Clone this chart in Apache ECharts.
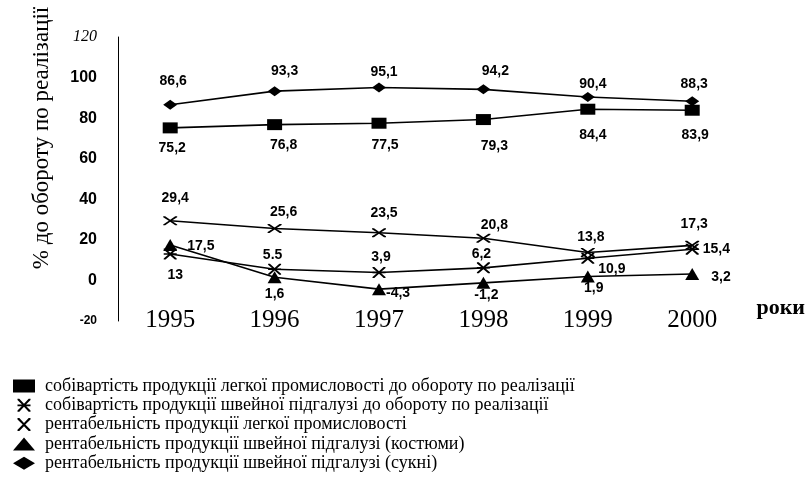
<!DOCTYPE html>
<html>
<head>
<meta charset="UTF-8">
<script src="https://cdn.jsdelivr.net/npm/echarts@6/dist/echarts.min.js"></script>
<style>
  html, body { margin: 0; padding: 0; background: #fff; }
  #main { width: 808px; height: 485px; }
</style>
</head>
<body>
<div id="main"></div>
<script>
const years = ['1995', '1996', '1997', '1998', '1999', '2000'];
const costLight = [75.2, 76.8, 77.5, 79.3, 84.4, 83.9];
const costSewing = [13, 5.5, 3.9, 6.2, 10.9, 15.4];
const profitLight = [29.4, 25.6, 23.5, 20.8, 13.8, 17.3];
const profitSuits = [17.5, 1.6, -4.3, -1.2, 1.9, 3.2];
const profitDresses = [86.6, 93.3, 95.1, 94.2, 90.4, 88.3];
const names = [
  'собівартість продукції легкої промисловості до обороту по реалізації',
  'собівартість продукції швейної підгалузі до обороту по реалізації',
  'рентабельність продукції легкої промисловості',
  'рентабельність продукції швейної підгалузі (костюми)',
  'рентабельність продукції швейної підгалузі (сукні)'
];

// marker shapes
const crossPath = 'path://M0,0 L14,0 L50,38 L86,0 L100,0 L100,10 L60,50 L100,90 L100,100 L86,100 L50,62 L14,100 L0,100 L0,90 L40,50 L0,10 Z';
const starPath = 'path://M0,0 L14,0 L50,38 L86,0 L100,0 L100,10 L60,50 L100,90 L100,100 L86,100 L50,62 L14,100 L0,100 L0,90 L40,50 L0,10 Z M0,43 L100,43 L100,57 L0,57 Z';

// label placement per point: [position, dx, dy]
const place = [
  [['bottom', 2, 0], ['bottom', 9, 0], ['bottom', 6, 1], ['bottom', 11, 6], ['bottom', 5, 5], ['bottom', 3, 4]],
  [['bottom', 5, 1], ['top', -2, 6], ['top', 2, 5], ['top', -2, 7], ['bottom', 24, -10], ['right', -4, 0]],
  [['top', 5, -3], ['top', 9, 3], ['top', 5, 0], ['top', 11, 6], ['top', 3, 4], ['top', 2, -2]],
  [['right', 2, 1], ['bottom', 0, -4], ['right', -8, 4], ['bottom', 3, -9], ['bottom', 6, -9], ['right', 4, 3]],
  [['top', 3, -4], ['top', 10, 0], ['top', 5, 5], ['top', 12, 2], ['top', 5, 7], ['top', 2, 3]]
];

const lineData = [costLight, costSewing, profitLight, profitSuits, profitDresses];
const symbols = ['rect', starPath, crossPath, 'triangle', 'diamond'];
const symbolSizes = [[15, 11], [13, 11], [14, 9], [14, 12], [14, 10]];

const labelFont = { fontFamily: 'Liberation Sans, Arial', fontWeight: 'bold', fontSize: 14, color: '#000' };

const series = lineData.map((vals, s) => ({
  name: names[s],
  type: 'line',
  symbol: symbols[s],
  symbolSize: symbolSizes[s],
  itemStyle: { color: '#000' },
  lineStyle: { color: '#000', width: 1.6 },
  z: s === 4 ? 3 : 2,
  data: vals.map((v, i) => ({
    value: v,
    label: {
      show: true,
      position: place[s][i][0],
      offset: [place[s][i][1], place[s][i][2]],
      distance: 8,
      ...labelFont,
      formatter: (s === 1 && i === 1) ? String(v) : String(v).replace('.', ',')
    }
  }))
}));

const chart = echarts.init(document.getElementById('main'));
chart.setOption({
  backgroundColor: '#fff',
  animation: false,
  grid: { left: 118, right: 62, top: 37, bottom: 164 },
  xAxis: {
    type: 'category',
    data: years,
    axisLine: { show: false, onZero: false },
    axisTick: { show: false },
    axisLabel: { margin: -13, fontFamily: 'Liberation Serif, Times New Roman', fontSize: 25, color: '#000' },
    name: 'роки',
    nameLocation: 'end',
    nameGap: 12,
    nameTextStyle: {
      fontFamily: 'Liberation Serif, Times New Roman', fontWeight: 'bold', fontSize: 22, color: '#000',
      align: 'left', verticalAlign: 'bottom', padding: [0, 0, 2, 0]
    }
  },
  yAxis: {
    type: 'value',
    min: -20,
    max: 120,
    interval: 20,
    splitLine: { show: false },
    axisTick: { show: false },
    axisLine: { show: true, lineStyle: { color: '#000', width: 1 } },
    axisLabel: {
      margin: 21,
      formatter: v => v === 120 ? '{i|' + v + '}' : v === -20 ? '{s|' + v + '}' : '{b|' + v + '}',
      rich: {
        i: { fontFamily: 'Liberation Serif, Times New Roman', fontStyle: 'italic', fontSize: 16, color: '#000' },
        b: { fontFamily: 'Liberation Sans, Arial', fontWeight: 'bold', fontSize: 16, color: '#000' },
        s: { fontFamily: 'Liberation Sans, Arial', fontWeight: 'bold', fontSize: 12, color: '#000' }
      }
    }
  },
  legend: {
    orient: 'vertical',
    left: 8,
    top: 372,
    bottom: 0,
    itemWidth: 22,
    itemHeight: 13,
    itemGap: 1.3,
    selectedMode: false,
    textStyle: { fontFamily: 'Liberation Serif, Times New Roman', fontSize: 18, lineHeight: 17, color: '#000', padding: [0, 0, 0, 5] },
    data: names.map((n, s) => ({ name: n, icon: symbols[s], itemStyle: { color: '#000' } }))
  },
  graphic: [{
    type: 'text',
    x: 42,
    y: 138,
    rotation: Math.PI / 2,
    style: {
      text: '% до обороту по реалізації',
      font: '23px "Liberation Serif", "Times New Roman"',
      fill: '#000',
      align: 'center',
      verticalAlign: 'middle'
    }
  }],
  series: series
});
</script>
</body>
</html>
